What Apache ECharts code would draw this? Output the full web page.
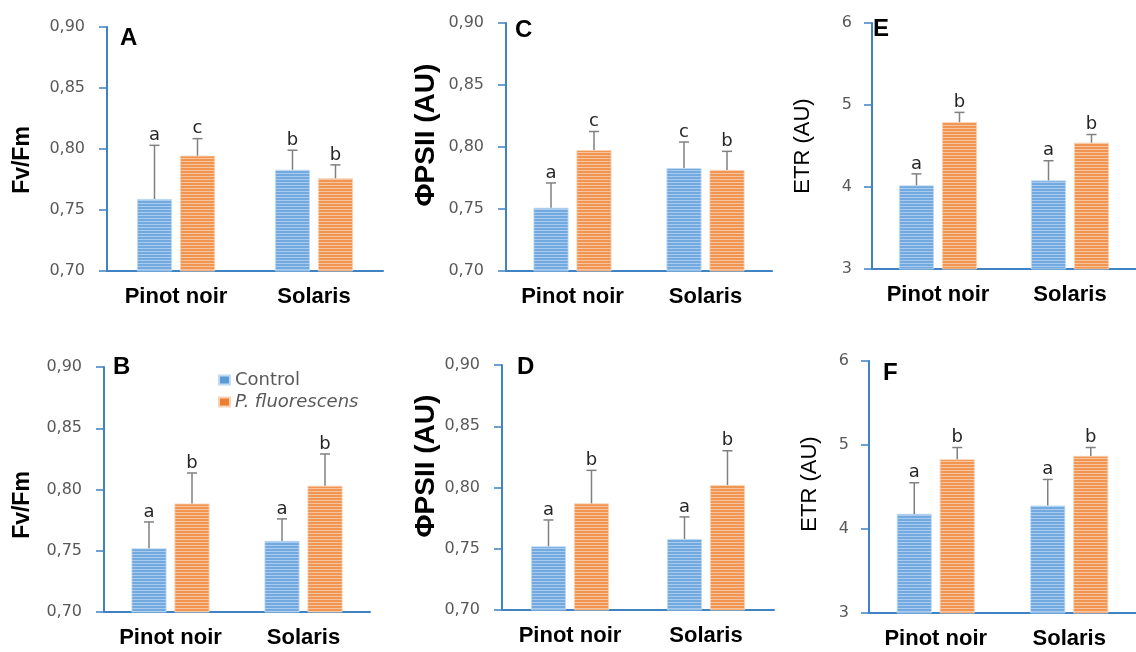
<!DOCTYPE html>
<html>
<head>
<meta charset="utf-8">
<script src="https://cdn.jsdelivr.net/npm/echarts@6/dist/echarts.min.js"></script>
<style>
  html, body { margin: 0; padding: 0; background: #ffffff; }
  #chart { width: 1136px; height: 652px; }
</style>
</head>
<body>
<div id="chart"></div>
<script>
// categories and series names
const categories = ['Pinot noir', 'Solaris'];
const seriesNames = ['Control', 'P. fluorescens'];

// A: Fv/Fm (top)
const aControl = [0.759, 0.783];
const aControlErr = [0.044, 0.016];
const aTreated = [0.7945, 0.776];
const aTreatedErr = [0.014, 0.011];
const aLetters = [['a', 'b'], ['c', 'b']];

// B: Fv/Fm (bottom)
const bControl = [0.752, 0.758];
const bControlErr = [0.0215, 0.018];
const bTreated = [0.7885, 0.803];
const bTreatedErr = [0.025, 0.026];
const bLetters = [['a', 'a'], ['b', 'b']];

// C: PhiPSII (top)
const cControl = [0.751, 0.783];
const cControlErr = [0.020, 0.021];
const cTreated = [0.7975, 0.7815];
const cTreatedErr = [0.015, 0.015];
const cLetters = [['a', 'c'], ['c', 'b']];

// D: PhiPSII (bottom)
const dControl = [0.752, 0.758];
const dControlErr = [0.0215, 0.018];
const dTreated = [0.787, 0.802];
const dTreatedErr = [0.027, 0.028];
const dLetters = [['a', 'a'], ['b', 'b']];

// E: ETR (top)
const eControl = [4.02, 4.08];
const eControlErr = [0.14, 0.24];
const eTreated = [4.79, 4.54];
const eTreatedErr = [0.12, 0.10];
const eLetters = [['a', 'a'], ['b', 'b']];

// F: ETR (bottom)
const fControl = [4.18, 4.28];
const fControlErr = [0.37, 0.31];
const fTreated = [4.83, 4.87];
const fTreatedErr = [0.14, 0.10];
const fLetters = [['a', 'a'], ['b', 'b']];

// y axis ranges
const fvRange = [0.70, 0.90, 0.05];
const etrRange = [3, 6, 1];

const axisBlue = '#3f83c4';
const blueFill = '#72a9df', blueLine = '#a9cbef';
const orangeFill = '#f09552', orangeLine = '#f7c49d';
const barW = 35, barGapPx = 8;

function stripes(base, line) {
  const c = document.createElement('canvas');
  c.width = 4; c.height = 3;
  const ctx = c.getContext('2d');
  ctx.fillStyle = base; ctx.fillRect(0, 0, 4, 3);
  ctx.fillStyle = line; ctx.fillRect(0, 2, 4, 1);
  return {image: c, repeat: 'repeat'};
}

const panels = [
  {id: 'A', grid: [107, 27, 276, 244], range: fvRange, title: 'Fv/Fm', tsize: 23, tpos: [23, 160], bold: true, lpos: [120, 38],
    vals: [aControl, aTreated], errs: [aControlErr, aTreatedErr], letters: aLetters},
  {id: 'B', grid: [104, 367, 266, 245], range: fvRange, title: 'Fv/Fm', tsize: 23, tpos: [23, 505], bold: true, lpos: [113, 367],
    vals: [bControl, bTreated], errs: [bControlErr, bTreatedErr], letters: bLetters},
  {id: 'C', grid: [506, 23, 266, 248], range: fvRange, title: 'ΦPSII (AU)', tsize: 28, tpos: [426, 135], bold: true, lpos: [515, 30],
    vals: [cControl, cTreated], errs: [cControlErr, cTreatedErr], letters: cLetters},
  {id: 'D', grid: [502, 365, 272, 245], range: fvRange, title: 'ΦPSII (AU)', tsize: 28, tpos: [426, 466], bold: true, lpos: [517, 367],
    vals: [dControl, dTreated], errs: [dControlErr, dTreatedErr], letters: dLetters},
  {id: 'E', grid: [872, 23, 268, 246], range: etrRange, title: 'ETR (AU)', tsize: 22, tpos: [803, 146], bold: false, lpos: [873, 29],
    vals: [eControl, eTreated], errs: [eControlErr, eTreatedErr], letters: eLetters},
  {id: 'F', grid: [869, 361, 268, 252], range: etrRange, title: 'ETR (AU)', tsize: 22, tpos: [810, 484], bold: false, lpos: [883, 373],
    vals: [fControl, fTreated], errs: [fControlErr, fTreatedErr], letters: fLetters}
];

const grids = [], xAxes = [], yAxes = [], series = [], graphics = [];
const fills = [stripes(blueFill, blueLine), stripes(orangeFill, orangeLine)];

panels.forEach((p, gi) => {
  grids.push({left: p.grid[0], top: p.grid[1], width: p.grid[2], height: p.grid[3]});
  xAxes.push({
    type: 'category', gridIndex: gi, data: categories,
    axisLine: {lineStyle: {color: axisBlue, width: 2}},
    axisTick: {length: 6, lineStyle: {color: axisBlue, width: 1.5}},
    axisLabel: {interval: 0, hideOverlap: false, margin: 15, color: '#000',
      fontFamily: 'Liberation Sans', fontWeight: 'bold', fontSize: 22}
  });
  const isEtr = p.range === etrRange;
  yAxes.push({
    type: 'value', gridIndex: gi, min: p.range[0], max: p.range[1], interval: p.range[2],
    splitLine: {show: false},
    axisLine: {show: true, lineStyle: {color: axisBlue, width: 2}},
    axisTick: {show: true, length: 8, lineStyle: {color: axisBlue, width: 1.5}},
    axisLabel: {
      margin: isEtr ? 20 : 22, color: '#595959', fontFamily: 'DejaVu Sans', fontSize: 16,
      formatter: v => isEtr ? String(Math.round(v)) : v.toFixed(2).replace('.', ',')
    }
  });
  [0, 1].forEach(si => {
    series.push({
      name: seriesNames[si], type: 'bar', xAxisIndex: gi, yAxisIndex: gi,
      data: p.vals[si], barWidth: barW, barGap: (barGapPx / barW * 100) + '%',
      itemStyle: {color: fills[si], borderColor: si ? '#f8d2b4' : '#c2dbf3', borderWidth: 0.8},
      silent: true
    });
    const offset = (si === 0 ? -1 : 1) * (barW + barGapPx) / 2;
    const letters = p.letters[si];
    series.push({
      type: 'custom', xAxisIndex: gi, yAxisIndex: gi, z: 5, silent: true,
      data: p.vals[si].map((v, i) => [i, v, p.errs[si][i]]),
      encode: {x: 0, y: 1},
      renderItem: (params, api) => {
        const base = api.coord([api.value(0), api.value(1)]);
        const top = api.coord([api.value(0), api.value(1) + api.value(2)]);
        const x = base[0] + offset;
        const st = {stroke: '#808080', lineWidth: 1.5};
        return {
          type: 'group', children: [
            {type: 'line', shape: {x1: x, y1: base[1], x2: x, y2: top[1]}, style: st},
            {type: 'line', shape: {x1: x - 5, y1: top[1], x2: x + 5, y2: top[1]}, style: st},
            {type: 'text', x: x, y: top[1] - 1, style: {
              text: letters[params.dataIndex], textAlign: 'center', textVerticalAlign: 'bottom',
              font: '18px "DejaVu Sans"', fill: '#262626'}}
          ]
        };
      }
    });
  });
  graphics.push({
    type: 'text', x: p.tpos[0], y: p.tpos[1], rotation: Math.PI / 2,
    style: {text: p.title, textAlign: 'center', textVerticalAlign: 'middle',
      font: (p.bold ? 'bold ' : '') + p.tsize + 'px "Liberation Sans"', fill: '#000'}
  });
  graphics.push({
    type: 'text', x: p.lpos[0], y: p.lpos[1],
    style: {text: p.id, textAlign: 'left', textVerticalAlign: 'middle', font: 'bold 24px "Liberation Sans"', fill: '#000'}
  });
});

const chart = echarts.init(document.getElementById('chart'), null, {renderer: 'canvas'});
chart.setOption({
  animation: false,
  backgroundColor: '#ffffff',
  grid: grids,
  xAxis: xAxes,
  yAxis: yAxes,
  legend: {
    left: 218, top: 369, padding: 0, orient: 'vertical', icon: 'rect', itemWidth: 11, itemHeight: 9, itemGap: 0,
    data: [
      {name: seriesNames[0], itemStyle: {color: '#5b9bd5'}},
      {name: seriesNames[1], itemStyle: {color: '#ed7d31'}}
    ],
    formatter: n => n === seriesNames[1] ? '{i|' + n + '}' : n,
    textStyle: {color: '#595959', fontFamily: 'DejaVu Sans', fontSize: 18, lineHeight: 22,
      rich: {i: {fontStyle: 'italic', color: '#595959', fontFamily: 'DejaVu Sans', fontSize: 18, lineHeight: 22}}}
  },
  graphic: graphics,
  series: series
});
</script>
</body>
</html>
